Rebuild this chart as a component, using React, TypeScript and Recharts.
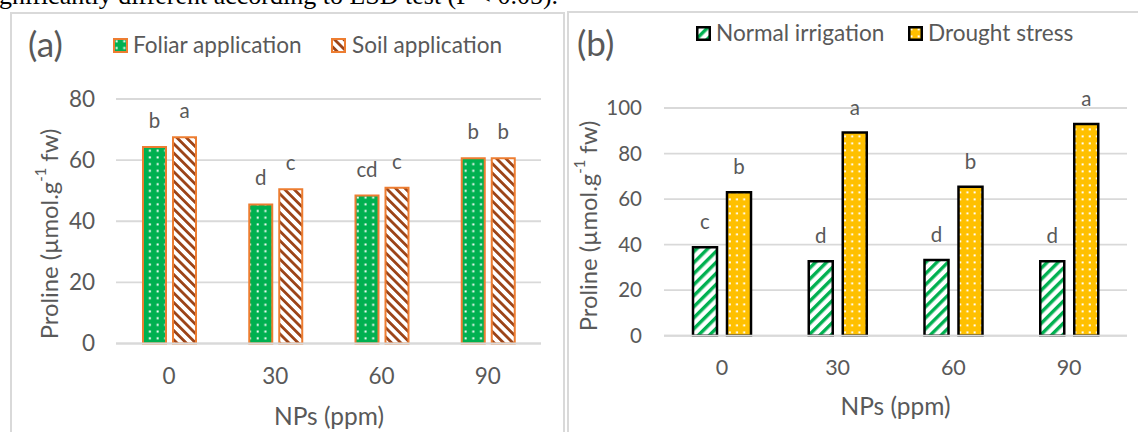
import React from 'react';
import { BarChart, Bar, XAxis, YAxis, CartesianGrid, LabelList, Label } from 'recharts';

const categories = ['0', '30', '60', '90'];
const foliar = [64.3, 45.5, 48.4, 60.6];
const soil = [67.5, 50.5, 51.0, 60.6];
const foliarLetters = ['b', 'd', 'cd', 'b'];
const soilLetters = ['a', 'c', 'c', 'b'];
const normal = [38.8, 32.7, 33.2, 32.7];
const drought = [63.0, 89.2, 65.4, 93.0];
const normalLetters = ['c', 'd', 'd', 'd'];
const droughtLetters = ['b', 'a', 'b', 'a'];
const ticksA = [0, 20, 40, 60, 80];
const ticksB = [0, 20, 40, 60, 80, 100];

const dataA = categories.map((c, i) => ({ cat: c, foliar: foliar[i], soil: soil[i], fl: foliarLetters[i], sl: soilLetters[i] }));
const dataB = categories.map((c, i) => ({ cat: c, normal: normal[i], drought: drought[i], nl: normalLetters[i], dl: droughtLetters[i] }));

const GREY = '#595959';
const FONT = 'Lato, "Noto Sans", sans-serif';
const GREEN = '#00B050';
const ORANGE = '#ED7D31';
const GOLD = '#FFC000';
const BROWN = '#9C4418';

const PatternDefs = ({ p }: { p: string }) => (
  <defs>
    <pattern id={p + 'dotsGreen'} width="7.7" height="6.7" patternUnits="userSpaceOnUse">
      <rect width="7.7" height="6.7" fill={GREEN} />
      <rect x="2.6" y="2.3" width="2" height="2" fill="#fff" />
    </pattern>
    <pattern id={p + 'dotsGold'} width="7.2" height="7" patternUnits="userSpaceOnUse">
      <rect width="7.2" height="7" fill={GOLD} />
      <rect x="2.4" y="2.4" width="2" height="2" fill="#fff" />
    </pattern>
    <pattern id={p + 'stripesBrown'} width="6.6" height="6.6" patternUnits="userSpaceOnUse" patternTransform="rotate(-45)">
      <rect width="6.6" height="6.6" fill="#fff" />
      <rect width="2.8" height="6.6" fill={BROWN} />
    </pattern>
    <pattern id={p + 'stripesGreen'} width="7.8" height="7.8" patternUnits="userSpaceOnUse" patternTransform="rotate(45)">
      <rect width="7.8" height="7.8" fill="#fff" />
      <rect width="3.4" height="7.8" fill={GREEN} />
    </pattern>
  </defs>
);

const yLabel = (cx: number, cy: number, fs: number) => () => (
  <text
    x={cx}
    y={cy}
    transform={`rotate(-90 ${cx} ${cy})`}
    textAnchor="middle"
    dominantBaseline="central"
    fill={GREY}
    fontSize={fs}
    fontFamily={FONT}
  >
    Proline (µmol.g
    <tspan dy={-fs * 0.38} fontSize={fs * 0.62}>-1</tspan>
    <tspan dy={fs * 0.38}> fw)</tspan>
  </text>
);

const xLabel = (cx: number, cy: number, fs: number) => () => (
  <text x={cx} y={cy} textAnchor="middle" dominantBaseline="central" fill={GREY} fontSize={fs} fontFamily={FONT}>
    NPs (ppm)
  </text>
);

const Swatch = ({ fill, stroke, sw }: { fill: string; stroke: string; sw: number }) => (
  <svg width={15} height={15} style={{ display: 'block' }}>
    <rect x={sw / 2} y={sw / 2} width={15 - sw} height={15 - sw} fill={fill} stroke={stroke} strokeWidth={sw} />
  </svg>
);

const abs = (l: number, t: number): React.CSSProperties => ({ position: 'absolute', left: l, top: t });

const legendText: React.CSSProperties = { fontFamily: FONT, fontSize: 22.6, lineHeight: '26px', color: GREY, whiteSpace: 'nowrap' };

export default function App() {
  return (
    <div style={{ position: 'absolute', left: 0, top: 0, width: 1138, height: 432, overflow: 'hidden', background: '#fff' }}>
      <div
        style={{
          ...abs(-1, -19),
          fontFamily: '"Liberation Serif", "Times New Roman", serif',
          fontSize: 26,
          lineHeight: '30px',
          color: '#000',
          whiteSpace: 'nowrap',
        }}
      >
        gnificantly different according to LSD test (P &lt; 0.05).
      </div>
      <div style={{ ...abs(10, 12), width: 555, height: 480, border: '2px solid #d9d9d9', boxSizing: 'border-box' }} />
      <div style={{ ...abs(567, 11), width: 600, height: 480, border: '2px solid #d9d9d9', boxSizing: 'border-box' }} />

      {/* Panel (a) */}
      <div style={abs(0, 0)}>
        <BarChart width={568} height={432} data={dataA} margin={{ top: 99, right: 27, bottom: 0, left: 0 }} barGap={7}>
          <PatternDefs p="a" />
          <CartesianGrid vertical={false} stroke="#d9d9d9" strokeWidth={1.8} />
          <XAxis
            dataKey="cat"
            height={88.5}
            tickLine={false}
            axisLine={{ stroke: '#d9d9d9', strokeWidth: 2 }}
            tickSize={0}
            tickMargin={25}
            tick={{ fill: GREY, fontSize: 22.5, fontFamily: FONT }}
          >
            <Label content={xLabel(329, 415, 24.5)} />
          </XAxis>
          <YAxis
            width={116}
            domain={[0, 80]}
            ticks={ticksA}
            interval={0}
            axisLine={false}
            tickLine={false}
            tickSize={0}
            tickMargin={21}
            tick={{ fill: GREY, fontSize: 22.5, fontFamily: FONT }}
          >
            <Label content={yLabel(49, 234, 23.8)} />
          </YAxis>
          <Bar dataKey="foliar" fill="url(#adotsGreen)" stroke={ORANGE} strokeWidth={2} barSize={23} isAnimationActive={false}>
            <LabelList dataKey="fl" position="top" offset={19} fill={GREY} fontSize={20.5} fontFamily={FONT} />
          </Bar>
          <Bar dataKey="soil" fill="url(#astripesBrown)" stroke={ORANGE} strokeWidth={2} barSize={23} isAnimationActive={false}>
            <LabelList dataKey="sl" position="top" offset={19} fill={GREY} fontSize={20.5} fontFamily={FONT} />
          </Bar>
        </BarChart>
      </div>

      {/* Panel (b) */}
      <div style={abs(568, 0)}>
        <BarChart width={570} height={432} data={dataB} margin={{ top: 108, right: 11, bottom: 0, left: 0 }} barGap={10}>
          <PatternDefs p="b" />
          <CartesianGrid vertical={false} stroke="#d9d9d9" strokeWidth={1.8} />
          <XAxis
            dataKey="cat"
            height={96.3}
            tickLine={false}
            axisLine={{ stroke: '#d9d9d9', strokeWidth: 2 }}
            tickSize={0}
            tickMargin={24}
            tick={{ fill: GREY, fontSize: 21.5, fontFamily: FONT }}
          >
            <Label content={xLabel(327.5, 405, 24.5)} />
          </XAxis>
          <YAxis
            width={96}
            domain={[0, 100]}
            ticks={ticksB}
            interval={0}
            axisLine={false}
            tickLine={false}
            tickSize={0}
            tickMargin={22}
            tick={{ fill: GREY, fontSize: 20.5, fontFamily: FONT }}
          >
            <Label content={yLabel(20, 226, 23.8)} />
          </YAxis>
          <Bar dataKey="normal" fill="url(#bstripesGreen)" stroke="#000" strokeWidth={2.5} barSize={24} isAnimationActive={false}>
            <LabelList dataKey="nl" position="top" offset={18} fill={GREY} fontSize={20.5} fontFamily={FONT} />
          </Bar>
          <Bar dataKey="drought" fill="url(#bdotsGold)" stroke="#000" strokeWidth={2.5} barSize={24} isAnimationActive={false}>
            <LabelList dataKey="dl" position="top" offset={18} fill={GREY} fontSize={20.5} fontFamily={FONT} />
          </Bar>
        </BarChart>
      </div>

      {/* Panel labels */}
      <div style={{ ...abs(28, 22), fontFamily: FONT, fontSize: 35, lineHeight: '42px', color: GREY }}>(a)</div>
      <div style={{ ...abs(577, 21), fontFamily: FONT, fontSize: 35, lineHeight: '42px', color: GREY }}>(b)</div>

      {/* Legend (a) */}
      <div style={abs(113, 38)}>
        <Swatch fill="url(#adotsGreen)" stroke={ORANGE} sw={2} />
      </div>
      <div style={{ ...abs(133, 32), ...legendText }}>Foliar application</div>
      <div style={abs(331, 38)}>
        <Swatch fill="url(#astripesBrown)" stroke={ORANGE} sw={2} />
      </div>
      <div style={{ ...abs(352, 32), ...legendText }}>Soil application</div>

      {/* Legend (b) */}
      <div style={abs(696, 26)}>
        <Swatch fill="url(#bstripesGreen)" stroke="#000" sw={2.5} />
      </div>
      <div style={{ ...abs(716, 20), ...legendText }}>Normal irrigation</div>
      <div style={abs(908, 26)}>
        <Swatch fill="url(#bdotsGold)" stroke="#000" sw={2.5} />
      </div>
      <div style={{ ...abs(928, 20), ...legendText }}>Drought stress</div>
    </div>
  );
}
